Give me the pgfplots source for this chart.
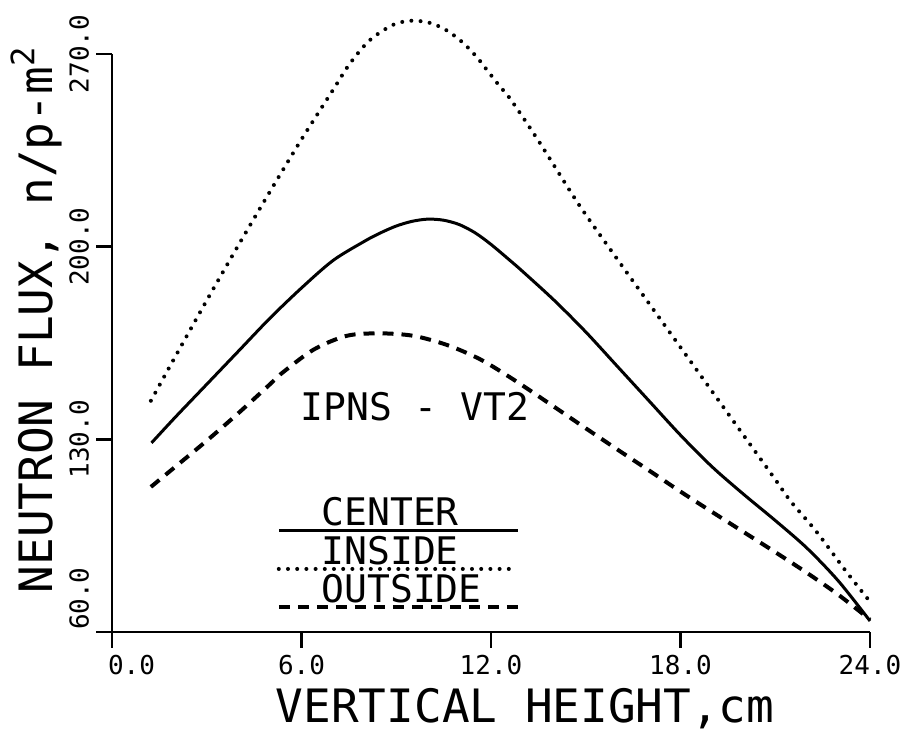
\documentclass[border=0pt]{standalone}
\usepackage{fontspec}
\setmainfont{DejaVu Sans Mono}
\usepackage{pgfplots}
\pgfplotsset{compat=1.18}
\begin{document}
\begin{tikzpicture}
\begin{axis}[
  scale only axis, width=379pt, height=289pt,
  xmin=0, xmax=24, ymin=60, ymax=270,
  axis x line*=bottom, axis y line*=left,
  axis line style={line width=1.3pt, black},
  tick align=outside, major tick length=8pt,
  tick style={line width=1.3pt, black},
  xtick={0,6,12,18,24},
  xticklabels={{\makebox[0pt][l]{\hspace*{-2pt}0.0}},6.0,12.0,18.0,24.0},
  ytick={60,130,200,270},
  yticklabels={{\makebox[0pt][l]{\hspace*{1pt}60.0}},130.0,200.0,270.0},
  xticklabel style={font=\fontsize{13}{13}\selectfont},
  yticklabel style={font=\fontsize{13}{13}\selectfont, rotate=90, anchor=south},
  clip=false,
]
% center
\addplot[black, line width=1.5pt, smooth] coordinates {
(1.25,128.7) (2,138) (3,150) (4,162) (5,174) (6,185) (7,195) (8,202) (8.5,205)
(9,207.5) (9.5,209.2) (10,210) (10.5,209.6) (11,208) (11.5,205) (12,200.8)
(12.6,195) (13,191) (14,180.5) (15,169) (16,156.5) (17,144) (18,131.5) (19,120)
(20,110) (21,100.5) (22,90.5) (23,78.5) (24,64)};
% inside
\addplot[black, line width=2pt, line cap=round, dash pattern=on 0pt off 4.6pt, smooth] coordinates {
(1.23,144) (2,160) (3,180.5) (4,200.5) (5,220) (6,239) (7,257) (7.53,266.5) (8.16,275)
(8.9,280.6) (9.5,282.1) (10.1,281.2) (10.62,278.4) (11.1,274.2) (11.54,269) (11.91,263.6)
(12.28,258.2) (12.62,253.5) (13.5,238.5) (14.78,215.3) (16,195.4) (17,179.4) (18,163.4)
(19,147.4) (20,131.4) (21,115.4) (21.5,107.3) (22.3,96.5) (23.25,81.9) (24,71)};
% outside
\addplot[black, line width=2pt, dash pattern=on 5.5pt off 4pt, smooth] coordinates {
(1.23,112.7) (2,120) (3,129.5) (4,139.5) (5,150) (5.32,153.5) (6.37,162.5) (7.43,167.6)
(8.48,168.5) (9.54,167.6) (10.6,164.3) (11.65,159.1) (12.7,151.8) (14,141.8) (15,134)
(16,126.3) (17,118.7) (18,111) (19,103.6) (20,96.3) (21,89) (22,81.5) (23,73.5) (24,64.5)};
% legend samples
\addplot[black, line width=1.5pt] coordinates {(5.28,96.7) (12.85,96.7)};
\addplot[black, line width=2pt, line cap=round, dash pattern=on 0pt off 4.6pt] coordinates {(5.28,82.9) (12.75,82.9)};
\addplot[black, line width=2pt, dash pattern=on 5.5pt off 4pt] coordinates {(5.28,69.1) (12.85,69.1)};
\node[anchor=west, font=\fontsize{19}{19}\selectfont, inner sep=0pt] at (axis cs:6.62,103.6) {CENTER};
\node[anchor=west, font=\fontsize{19}{19}\selectfont, inner sep=0pt] at (axis cs:6.62,89.4) {INSIDE};
\node[anchor=west, font=\fontsize{19}{19}\selectfont, inner sep=0pt] at (axis cs:6.62,75.6) {OUTSIDE};
\node[font=\fontsize{19}{19}\selectfont, inner sep=0pt] at (axis cs:9.59,141.8) {IPNS - VT2};
% axis labels
\node[font=\fontsize{23}{23}\selectfont, inner sep=0pt] at (rel axis cs:0.545,-0.133) {VERTICAL HEIGHT,cm};
\node[rotate=90, font=\fontsize{23}{23}\selectfont, inner sep=0pt] at (rel axis cs:-0.1,0.54) {NEUTRON FLUX, n/p-m\textsuperscript{2}};
\path (rel axis cs:-0.1478,-0.1747) (rel axis cs:1.058,1.0934);
\end{axis}
\end{tikzpicture}
\end{document}
